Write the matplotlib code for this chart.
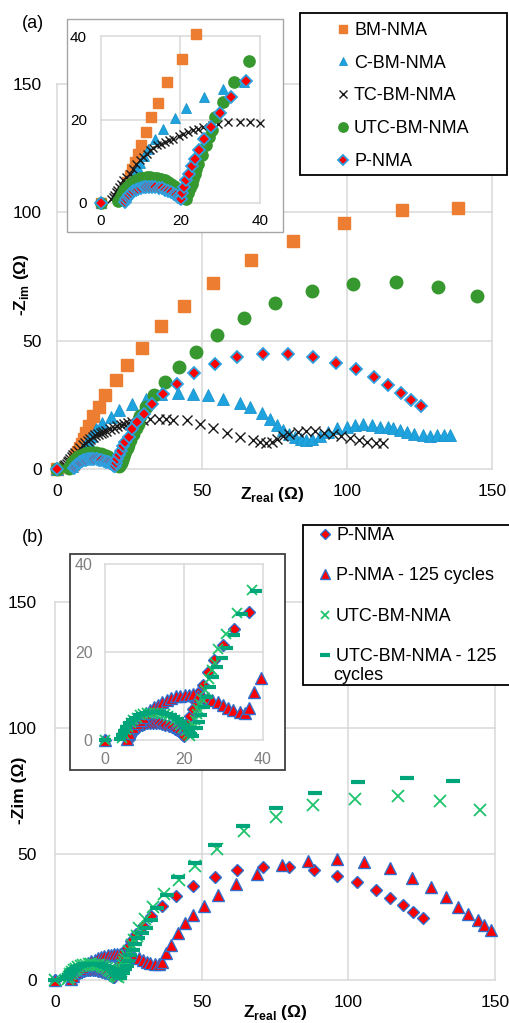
import matplotlib
matplotlib.use("Agg")
import matplotlib.pyplot as plt
from matplotlib.patches import Rectangle

plt.rcParams['font.family'] = ['Liberation Sans', 'DejaVu Sans']
plt.rcParams['mathtext.fontset'] = 'custom'
plt.rcParams['mathtext.rm'] = 'Liberation Sans'
plt.rcParams['mathtext.bf'] = 'Liberation Sans:bold'

# --- data, Z_real / -Z_im in ohm ---
bm_x = [0, 5.5, 6.1, 6.6, 7.2, 7.9, 8.5, 9.2, 10.0, 11.2, 12.5, 14.4, 16.7, 20.3, 24.0, 29.2,
        35.9, 43.8, 53.9, 66.8, 81.3, 99.0, 119.0, 138.4]
bm_y = [0, 1.8, 3.4, 5.0, 6.6, 8.2, 9.8, 11.8, 14.0, 16.9, 20.5, 24.0, 29.0, 34.6, 40.5, 47.2,
        55.6, 63.4, 72.3, 81.3, 89.0, 96.0, 100.8, 101.8]

c_x = [0, 5.0, 5.6, 6.2, 6.8, 7.4, 8.0, 8.6, 9.2, 9.9, 10.8, 11.7, 13.5, 15.5, 18.6, 21.5, 25.9,
       30.6, 35.9, 41.6, 47.0, 52.2, 57.3, 63.1, 66.6, 70.6, 73.4, 75.7, 78.0, 80.0, 82.0, 84.0,
       86.0, 88.0, 90.7, 93.5, 96.4, 99.9, 102.8, 105.6, 108.5, 111.4, 114.0, 116.0, 118.3, 120.6,
       123.0, 126.3, 128.7, 131.0, 133.3, 135.5]
c_y = [0, 1.2, 2.2, 3.2, 4.2, 5.2, 6.2, 7.3, 8.4, 9.6, 11.2, 13.0, 15.4, 17.8, 20.4, 22.8, 25.3,
       27.3, 29.1, 29.5, 29.2, 28.8, 27.2, 25.6, 24.0, 21.7, 19.3, 17.1, 15.2, 13.5, 12.3, 11.5,
       11.2, 11.6, 13.0, 14.5, 15.8, 16.5, 17.2, 17.5, 17.2, 16.5, 16.2, 15.8, 15.1, 14.5,
       13.8, 13.2, 13.0, 13.2, 13.2, 13.2]

tc_x = [2.5, 2.9, 3.3, 3.7, 4.1, 4.5, 5.0, 5.5, 6.2, 7.2, 8.0, 8.9, 9.8, 10.6, 11.5, 12.3, 13.2,
        14.0, 15.0, 16.0, 17.0, 18.2, 19.5, 20.7, 22.0, 23.2, 24.5, 25.7, 27.8, 29.5, 32.0, 35.0,
        37.5, 40.0, 44.7, 49.3, 53.9, 58.5, 63.1, 67.7, 70.0, 72.0, 74.0, 76.0, 78.0, 80.0, 83.0,
        86.0, 89.0, 92.0, 95.0, 98.0, 101.0, 104.0, 107.0, 110.0, 112.5]
tc_y = [1.0, 1.5, 2.0, 2.6, 3.2, 3.8, 4.6, 5.4, 6.2, 7.0, 8.2, 9.4, 10.2, 11.0, 11.8, 12.6, 13.2,
        13.8, 14.2, 14.6, 15.0, 15.4, 16.0, 16.6, 17.0, 17.4, 17.8, 18.2, 18.6, 19.0, 19.3, 19.3,
        19.3, 19.2, 19.0, 17.5, 15.8, 13.9, 12.3, 11.3, 10.5, 10.2, 10.5, 11.5, 12.8, 13.8, 14.5,
        14.8, 14.7, 14.2, 13.5, 12.8, 12.0, 11.3, 10.7, 10.3, 10.0]

utc_x = [0, 4.3, 4.7, 5.2, 5.8, 6.5, 7.2, 8.0, 8.8, 9.7, 10.6, 11.5, 12.4, 13.3, 14.2, 15.1, 16.0,
         16.8, 17.6, 18.4, 19.1, 19.8, 20.4, 20.9, 21.4, 21.9, 22.4, 22.8, 23.2, 23.6, 24.0, 24.5,
         25.3, 26.3, 27.1, 27.8, 28.7, 30.6, 33.5, 37.3, 42.2, 47.8, 55.3, 64.5, 75.2, 87.8,
         102.2, 116.8, 131.3, 144.9]
utc_y = [0, 0.4, 1.3, 2.2, 3.0, 3.8, 4.5, 5.1, 5.6, 5.9, 6.1, 6.2, 6.2, 6.1, 6.0, 5.8, 5.5,
         5.1, 4.6, 4.0, 3.4, 2.7, 2.0, 1.4, 1.0, 2.4, 3.5, 4.6, 5.8, 7.0, 8.2, 9.4,
         11.4, 13.8, 15.8, 17.4, 20.6, 24.2, 28.9, 34.0, 39.6, 45.4, 52.1, 59.0, 64.5, 69.4,
         72.0, 72.9, 70.9, 67.3]

p_x = [0, 6.0, 6.3, 6.7, 7.1, 7.6, 8.1, 8.7, 9.3, 10.0, 10.7, 11.4, 12.1, 12.9, 13.7, 14.5, 15.3,
       16.1, 16.9, 17.6, 18.3, 18.9, 19.4, 19.8, 20.1, 20.3, 20.8, 21.5, 22.2, 22.9, 23.6, 24.7,
       26.0, 27.6, 29.9, 32.7, 36.5, 41.3, 47.2, 54.5, 62.2, 70.9, 79.8, 88.4, 96.2, 103.1,
       109.3, 114.3, 118.6, 122.1, 125.4]
p_y = [0, 0.3, 0.9, 1.4, 1.9, 2.4, 2.8, 3.1, 3.4, 3.6, 3.8, 3.9, 3.9, 3.9, 3.8, 3.7, 3.5,
       3.2, 2.9, 2.6, 2.2, 1.8, 1.4, 1.1, 1.0, 2.4, 3.8, 5.4, 7.0, 8.8, 10.6, 12.6,
       15.4, 18.2, 21.6, 25.3, 29.2, 33.3, 37.5, 40.9, 43.5, 44.7, 45.0, 43.7, 41.4, 38.9,
       35.9, 32.7, 29.7, 26.8, 24.6]

p125_x = [0, 5.5, 6.2, 7.2, 8.0, 8.8, 9.7, 10.5, 11.4, 12.4, 13.5, 14.5, 15.6, 16.8, 18.1, 19.1,
          20.2, 21.2, 22.3, 23.5, 24.8, 26.0, 27.0, 28.6, 29.9, 31.2, 32.4, 34.1, 35.4, 36.4,
          37.8, 39.4, 42.0, 44.3, 47.2, 50.8, 55.7, 61.7, 68.9, 77.3, 86.4, 96.2, 105.5, 114.2,
          121.8, 128.1, 133.2, 137.5, 140.9, 144.1, 146.4, 148.5]
p125_y = [0, 0.3, 1.5, 3.0, 3.8, 4.5, 5.3, 6.1, 6.8, 7.4, 8.0, 8.6, 9.1, 9.6, 10.0, 10.1,
          10.2, 10.3, 10.4, 10.1, 9.8, 9.5, 9.2, 8.6, 8.0, 7.2, 6.8, 6.4, 6.2, 7.3,
          10.9, 14.0, 18.5, 22.5, 25.8, 29.5, 33.7, 38.1, 42.1, 45.6, 47.4, 47.9, 46.7, 44.3,
          40.6, 36.8, 33.1, 29.1, 26.2, 23.8, 21.8, 19.8]

utc125_x = [0, 3.8, 4.2, 4.7, 5.3, 6.0, 6.8, 7.6, 8.5, 9.4, 10.3, 11.2, 12.1, 13.0, 13.9, 14.8,
            15.7, 16.6, 17.5, 18.4, 19.2, 20.0, 20.7, 21.3, 21.8, 22.3, 23.2, 23.8, 24.4, 25.0,
            25.7, 26.5, 27.4, 28.4, 29.6, 31.0, 32.6, 34.8, 38.3, 42.0, 47.7, 54.5, 64.2, 75.3,
            88.6, 103.4, 119.9, 135.8]
utc125_y = [0, 0.3, 1.2, 2.1, 3.0, 3.8, 4.5, 5.1, 5.6, 6.0, 6.2, 6.4, 6.4, 6.4, 6.3, 6.2,
            6.0, 5.7, 5.3, 4.8, 4.2, 3.5, 2.8, 2.1, 1.4, 0.9, 2.7, 4.2, 5.7, 7.6,
            9.8, 12.1, 14.4, 16.6, 18.7, 20.8, 23.8, 28.6, 33.9, 40.8, 46.3, 53.6, 61.1, 68.4,
            74.3, 78.7, 80.0, 79.1]

labels_a = ["BM-NMA", "C-BM-NMA", "TC-BM-NMA", "UTC-BM-NMA", "P-NMA"]
labels_b = ["P-NMA", "P-NMA - 125 cycles", "UTC-BM-NMA", "UTC-BM-NMA - 125"]
label_b_wrap = "cycles"

series_a = [
    (bm_x, bm_y, dict(marker='s', ms=8, color='#ED7D31', mec='#ED7D31')),
    (c_x, c_y, dict(marker='^', ms=8.5, color='#1FA3DE', mec='#1B93CC', mew=0.6)),
    (tc_x, tc_y, dict(marker='x', ms=7, color='#1A1A1A', mew=1.0)),
    (utc_x, utc_y, dict(marker='o', ms=9, color='#36982F', mec='#36982F')),
    (p_x, p_y, dict(marker='D', ms=6.5, color='#FF0000', mec='#2DA0E0', mew=1.3)),
]
series_b = [
    (p_x, p_y, dict(marker='D', ms=6.5, color='#FF0000', mec='#2E6FCE', mew=1.0)),
    (p125_x, p125_y, dict(marker='^', ms=9, color='#FF0000', mec='#2E6FCE', mew=1.0)),
    (utc_x, utc_y, dict(marker='x', ms=8, color='#1DC46B', mew=1.3)),
    (utc125_x, utc125_y, dict(marker='_', ms=10, color='#00A67A', mew=3)),
]

W, H = 510, 1023
fig = plt.figure(figsize=(W / 100, H / 100), dpi=100)


def box(x0, y0, x1, y1):
    return [x0 / W, 1 - y1 / H, (x1 - x0) / W, (y1 - y0) / H]


def style(ax, lim, step, size, color, xpad, ypad):
    ax.set_xlim(0, lim)
    ax.set_ylim(0, lim)
    ticks = list(range(0, lim + 1, step))
    ax.set_xticks(ticks)
    ax.set_yticks(ticks)
    for s in ax.spines.values():
        s.set_visible(False)
    ax.grid(True, color='#D9D9D9', lw=1.1)
    ax.set_axisbelow(True)
    ax.tick_params(axis='both', length=0, labelsize=size, labelcolor=color)
    ax.tick_params(axis='x', pad=xpad)
    ax.tick_params(axis='y', pad=ypad)
    for g in ax.get_xgridlines() + ax.get_ygridlines():
        g.set_clip_on(False)


def draw(ax, series, labels, inset=False):
    for (x, y, kw), lab in zip(series, labels):
        if inset:
            pts = [(a, b) for a, b in zip(x, y) if a <= 40.5 and b <= 40.5]
            x = [a for a, b in pts]
            y = [b for a, b in pts]
            kw = dict(kw, ms=kw['ms'] * 0.9)
        ax.plot(x, y, ls='none', label=lab, clip_on=False, **kw)


# ---------------- panel (a) ----------------
ax_a = fig.add_axes(box(57, 84, 492, 469), zorder=0)
style(ax_a, 150, 50, 12.5, 'black', 11, 11)
draw(ax_a, series_a, labels_a)

fig.patches.append(Rectangle((67 / W, 1 - 232 / H), 216 / W, 213 / H, transform=fig.transFigure,
                             facecolor='white', edgecolor='#A6A6A6', lw=1.0, zorder=1))
ins_a = fig.add_axes(box(101, 36, 260, 203), zorder=2)
style(ins_a, 40, 20, 11, 'black', 8, 10)
draw(ins_a, series_a, labels_a, inset=True)

fig.patches.append(Rectangle((300 / W, 1 - 175 / H), 207 / W, 162 / H, transform=fig.transFigure,
                             facecolor='white', edgecolor='black', lw=1.3, zorder=3))
h, l = ax_a.get_legend_handles_labels()
fig.legend(h, l, loc='upper left', bbox_to_anchor=(336 / W, 1 - 22 / H), frameon=False,
           borderpad=0, borderaxespad=0, handlelength=0.8, handletextpad=0.2,
           labelspacing=0.87, fontsize=13, markerscale=0.75)

fig.text(33 / W, 1 - 24 / H, "(a)", fontsize=13, ha='center', va='center')
fig.text(22 / W, 1 - 285 / H, r"-Z$_{\mathbf{im}}$ (Ω)", rotation=90, fontsize=12.5,
         fontweight='bold', ha='center', va='center')
fig.text(272 / W, 1 - 495 / H, r"Z$_{\mathbf{real}}$ (Ω)", fontsize=12.5,
         fontweight='bold', ha='center', va='center')

# ---------------- panel (b) ----------------
ax_b = fig.add_axes(box(55, 602, 495, 980), zorder=0)
style(ax_b, 150, 50, 12.5, 'black', 11, 13)
draw(ax_b, series_b, labels_b)

fig.patches.append(Rectangle((70 / W, 1 - 770 / H), 215 / W, 216 / H, transform=fig.transFigure,
                             facecolor='white', edgecolor='#404040', lw=1.3, zorder=1))
ins_b = fig.add_axes(box(105, 564, 263, 740), zorder=2)
style(ins_b, 40, 20, 11.5, '#7F7F7F', 9, 9)
draw(ins_b, series_b, labels_b, inset=True)

fig.patches.append(Rectangle((303 / W, 1 - 685 / H), 212 / W, 160 / H, transform=fig.transFigure,
                             facecolor='white', edgecolor='black', lw=1.3, zorder=3))
h, l = ax_b.get_legend_handles_labels()
fig.legend(h, l, loc='upper left', bbox_to_anchor=(318 / W, 1 - 527 / H), frameon=False,
           borderpad=0, borderaxespad=0, handlelength=0.8, handletextpad=0.2,
           labelspacing=1.3, fontsize=13, markerscale=0.75)
fig.text(333 / W, 1 - 676 / H, label_b_wrap, fontsize=13, ha='left', va='center', zorder=6)

fig.text(33 / W, 1 - 537 / H, "(b)", fontsize=13, ha='center', va='center')
fig.text(20 / W, 1 - 790 / H, "-Zim (Ω)", rotation=90, fontsize=12.5,
         fontweight='bold', ha='center', va='center')
fig.text(275 / W, 1 - 1012 / H, r"Z$_{\mathbf{real}}$ (Ω)", fontsize=12.5,
         fontweight='bold', ha='center', va='center')

fig.savefig("out.png", dpi=100)
